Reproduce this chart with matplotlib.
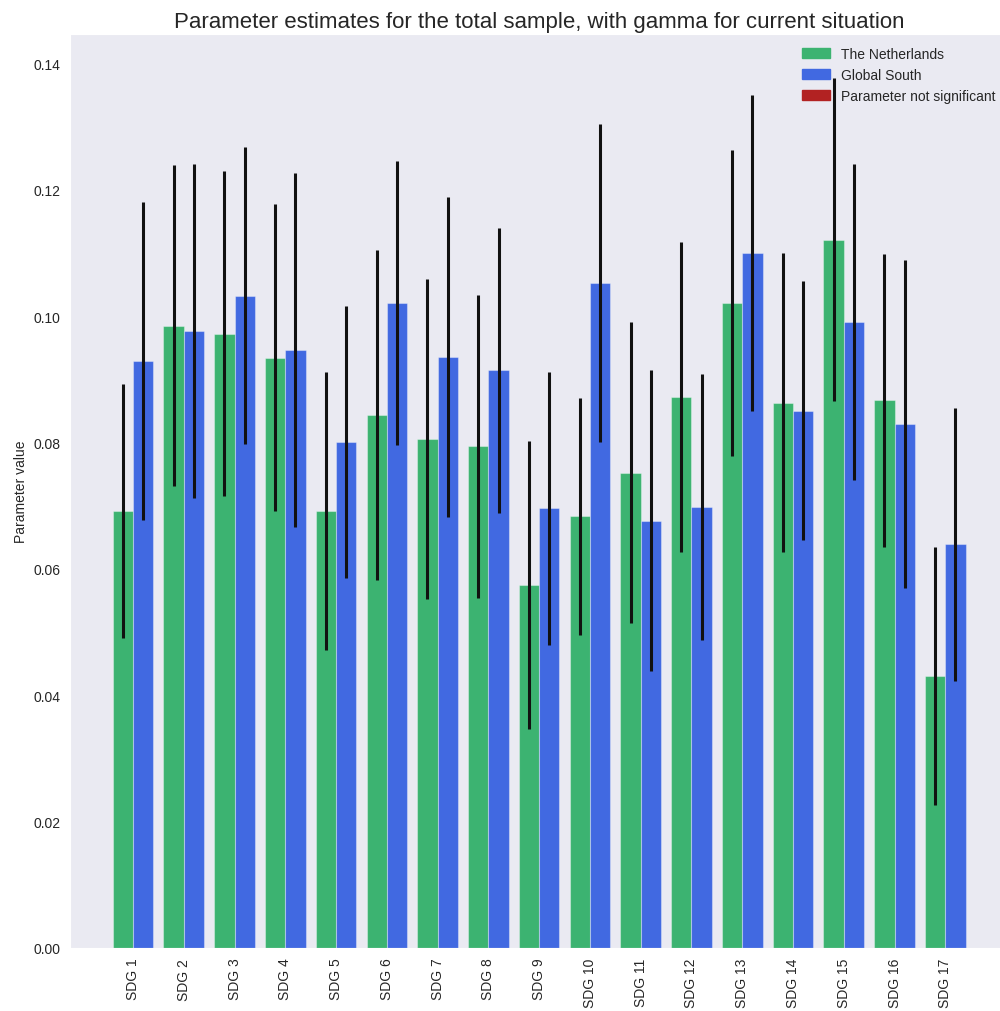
import numpy as np
import matplotlib
matplotlib.use("Agg")
import matplotlib.pyplot as plt
import matplotlib.patches as mpatches
import seaborn as sns

sns.set_style("dark")
plt.rcParams['font.family'] = ['Liberation Sans', 'DejaVu Sans']

# Parameter estimates and their error margins per SDG
sdgs = [f"SDG {i}" for i in range(1, 18)]
nl_values = [0.0692, 0.0985, 0.0972, 0.0934, 0.0692, 0.0843, 0.0805, 0.0794, 0.0574,
             0.0683, 0.0752, 0.0872, 0.1021, 0.0863, 0.1121, 0.0867, 0.0430]
nl_errors = [0.0201, 0.0254, 0.0257, 0.0243, 0.0220, 0.0261, 0.0253, 0.0240, 0.0228,
             0.0187, 0.0238, 0.0246, 0.0242, 0.0237, 0.0256, 0.0232, 0.0204]
gs_values = [0.0929, 0.0976, 0.1032, 0.0946, 0.0801, 0.1021, 0.0935, 0.0914, 0.0696,
             0.1052, 0.0676, 0.0698, 0.1100, 0.0850, 0.0990, 0.0829, 0.0639]
gs_errors = [0.0251, 0.0264, 0.0235, 0.0280, 0.0215, 0.0225, 0.0253, 0.0226, 0.0216,
             0.0252, 0.0238, 0.0211, 0.0250, 0.0205, 0.0250, 0.0260, 0.0216]

x = np.arange(len(sdgs))
width = 0.4

fig = plt.figure(figsize=(10, 10.12), dpi=100)
ax = fig.add_axes([0.07, 0.0623, 0.9383, 0.9027])

err_style = dict(ecolor='#111111', elinewidth=2.2, capsize=0)
ax.bar(x - width / 2, nl_values, width, yerr=nl_errors, color='mediumseagreen',
       edgecolor=(1, 1, 1, 0.35), linewidth=0.8, error_kw=err_style)
ax.bar(x + width / 2, gs_values, width, yerr=gs_errors, color='royalblue',
       edgecolor=(1, 1, 1, 0.35), linewidth=0.8, error_kw=err_style)

ax.set_xticks(x)
ax.set_xticklabels(sdgs, rotation=90, fontsize=10)
ax.tick_params(axis='y', labelsize=10)
ax.set_ylabel("Parameter value", fontsize=10)
ax.set_title("Parameter estimates for the total sample, with gamma for current situation",
             fontsize=16, pad=5)

handles = [mpatches.Patch(color='mediumseagreen', label='The Netherlands'),
           mpatches.Patch(color='royalblue', label='Global South'),
           mpatches.Patch(color='firebrick', label='Parameter not significant')]
ax.legend(handles=handles, loc='upper right', fontsize=10, frameon=False)

fig.savefig("out.png", dpi=100)
